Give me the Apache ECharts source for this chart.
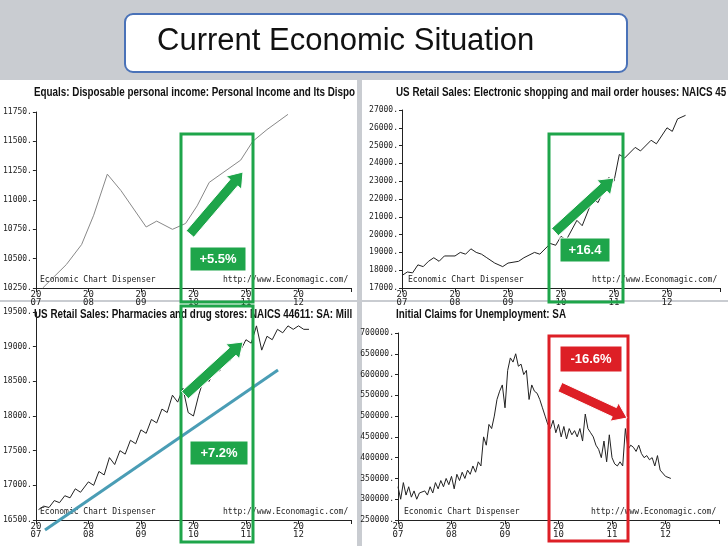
<!DOCTYPE html>
<html><head><meta charset="utf-8">
<script src="https://cdn.jsdelivr.net/npm/echarts@6/dist/echarts.min.js"></script>
<style>html,body{margin:0;padding:0;background:#c9ccd1}#main{width:728px;height:546px}</style>
</head><body><div id="main"></div>
<script>
// values: [year, value]
var incomeData = [[2007.13,10250],[2007.58,10450],[2007.87,10620],[2008.1,10870],[2008.36,11220],[2008.62,11080],[2009.1,10770],[2009.3,10820],[2009.6,10750],[2009.85,10800],[2010.07,10950],[2010.3,11150],[2010.9,11340],[2011.13,11500],[2011.4,11600],[2011.8,11730]];
var shoppingData = [[2007.0,17700],[2007.1,17900],[2007.2,17850],[2007.3,18300],[2007.4,18200],[2007.5,18500],[2007.6,18700],[2007.7,18500],[2007.8,18800],[2008.0,18800],[2008.1,19000],[2008.2,18900],[2008.3,19200],[2008.4,19000],[2008.5,18900],[2008.6,18700],[2008.75,18400],[2008.9,18200],[2009.0,18400],[2009.2,18500],[2009.3,18700],[2009.5,19000],[2009.6,18900],[2009.8,19500],[2009.9,19400],[2010.0,19900],[2010.1,19700],[2010.3,20800],[2010.4,20500],[2010.6,22000],[2010.7,21800],[2010.9,23200],[2011.0,23000],[2011.1,24500],[2011.2,24300],[2011.4,24900],[2011.5,24700],[2011.7,25300],[2011.8,25100],[2012.0,26000],[2012.1,25800],[2012.2,26500],[2012.35,26700]];
var pharmacyData = [[2007.05,16650],[2007.15,16700],[2007.25,16680],[2007.35,16780],[2007.45,16750],[2007.55,16850],[2007.65,16820],[2007.75,16950],[2007.85,16900],[2008.0,17050],[2008.1,17000],[2008.2,17200],[2008.3,17150],[2008.4,17400],[2008.5,17300],[2008.6,17500],[2008.7,17450],[2008.8,17650],[2008.9,17600],[2009.0,17800],[2009.1,17750],[2009.2,17950],[2009.3,17900],[2009.4,18100],[2009.5,18050],[2009.6,18300],[2009.7,18200],[2009.8,18400],[2009.9,18050],[2010.0,18000],[2010.1,18300],[2010.2,18550],[2010.3,18500],[2010.4,18700],[2010.5,18650],[2010.6,18850],[2010.7,18800],[2010.8,19000],[2010.9,18950],[2011.0,19100],[2011.1,19050],[2011.2,19300],[2011.3,18950],[2011.4,19150],[2011.5,19100],[2011.6,19250],[2011.7,19200],[2011.8,19300],[2011.9,19250],[2012.0,19300],[2012.1,19250],[2012.2,19250]];
var claimsData = [[2007.0,330000],[2007.05,300000],[2007.1,340000],[2007.15,310000],[2007.2,330000],[2007.25,305000],[2007.3,320000],[2007.35,300000],[2007.4,315000],[2007.5,320000],[2007.55,310000],[2007.6,330000],[2007.65,315000],[2007.7,340000],[2007.75,325000],[2007.8,345000],[2007.85,330000],[2007.9,350000],[2007.95,335000],[2008.0,355000],[2008.05,325000],[2008.1,360000],[2008.15,345000],[2008.2,365000],[2008.25,350000],[2008.3,370000],[2008.35,360000],[2008.4,380000],[2008.45,365000],[2008.5,390000],[2008.55,380000],[2008.6,450000],[2008.65,430000],[2008.7,480000],[2008.75,470000],[2008.8,500000],[2008.85,540000],[2008.9,560000],[2008.95,575000],[2009.0,520000],[2009.05,610000],[2009.1,640000],[2009.15,630000],[2009.2,650000],[2009.25,620000],[2009.3,625000],[2009.35,600000],[2009.4,610000],[2009.45,540000],[2009.5,575000],[2009.55,560000],[2009.6,555000],[2009.65,540000],[2009.7,520000],[2009.75,500000],[2009.8,480000],[2009.85,470000],[2009.9,490000],[2009.95,460000],[2010.0,480000],[2010.05,450000],[2010.1,475000],[2010.15,445000],[2010.2,470000],[2010.25,455000],[2010.3,465000],[2010.35,450000],[2010.4,470000],[2010.45,440000],[2010.5,505000],[2010.55,470000],[2010.6,460000],[2010.65,450000],[2010.7,430000],[2010.75,420000],[2010.8,400000],[2010.85,440000],[2010.9,390000],[2010.95,455000],[2011.0,400000],[2011.05,385000],[2011.1,380000],[2011.15,390000],[2011.2,380000],[2011.25,470000],[2011.3,420000],[2011.35,430000],[2011.4,425000],[2011.45,415000],[2011.5,430000],[2011.55,410000],[2011.6,400000],[2011.65,405000],[2011.7,395000],[2011.75,400000],[2011.8,380000],[2011.85,405000],[2011.9,370000],[2012.0,355000],[2012.1,350000]];

var titles = ['Equals: Disposable personal income: Personal Income and Its Dispositio',
  'US Retail Sales: Electronic shopping and mail order houses: NAICS 4541:',
  'US Retail Sales: Pharmacies and drug stores: NAICS 44611: SA: Millions o',
  'Initial Claims for Unemployment: SA'];
var yRanges = [[10250,11750,250],[17000,27000,1000],[16500,19500,500],[250000,700000,50000]];
var grids = [
  {left:34, top:112, width:317, height:176},
  {left:402, top:110, width:318, height:178},
  {left:34, top:312, width:317, height:208},
  {left:398, top:333, width:321, height:187}
];
var panels = [[0,80,357,220],[362,80,366,220],[0,302,357,244],[362,302,366,244]];
var seriesData = [incomeData, shoppingData, pharmacyData, claimsData];

var mono = 'DejaVu Sans Mono';
var graphic = [];
panels.forEach(function (p, i) {
  graphic.push({type:'rect', z:-10, shape:{x:p[0],y:p[1],width:p[2],height:p[3]}, style:{fill:'#fff'}});
  graphic.push({type:'text', x:p[0]+34, y:p[1]+7, scaleX:0.82, originX:0, originY:0,
    style:{text:titles[i], font:'bold 12px "Liberation Sans"', fill:'#111', width:(p[2]-34)/0.82, overflow:'truncate', ellipsis:''}});
  var g = grids[i];
  graphic.push({type:'text', left:g.left+6, top:g.top+g.height-12, style:{text:'Economic Chart Dispenser', font:'8px '+mono, fill:'#222'}});
  graphic.push({type:'text', left:g.left+g.width-128, top:g.top+g.height-12, style:{text:'http://www.Economagic.com/', font:'8px '+mono, fill:'#222'}});
});
// title box
graphic.push({type:'rect', shape:{x:125,y:14,width:502,height:58,r:8}, style:{fill:'#fff',stroke:'#4a72b8',lineWidth:2}, z:50});
graphic.push({type:'text', left:157, top:26, z:51, style:{text:'Current Economic Situation', font:'31px "Liberation Sans"', fill:'#111'}});
// highlight boxes
function box(x,y,w,h,c){graphic.push({type:'rect',z:60,shape:{x:x,y:y,width:w,height:h},style:{fill:'none',stroke:c,lineWidth:3}});}
function tag(x,y,w,h,c,t){graphic.push({type:'rect',z:61,shape:{x:x,y:y,width:w,height:h},style:{fill:c,stroke:'#fff',lineWidth:1}});
  graphic.push({type:'text',z:62,x:x+w/2,y:y+h/2,style:{text:t,font:'bold 13px "Liberation Sans"',fill:'#fff',align:'center',verticalAlign:'middle'}});}
function arrow(x1,y1,x2,y2,c){
  var a=Math.atan2(y2-y1,x2-x1), L=Math.hypot(x2-x1,y2-y1), w=5, hw=10, hl=14;
  var pts=[[0,-w],[L-hl,-w],[L-hl,-hw],[L,0],[L-hl,hw],[L-hl,w],[0,w]].map(function(p){
    return [x1+p[0]*Math.cos(a)-p[1]*Math.sin(a), y1+p[0]*Math.sin(a)+p[1]*Math.cos(a)];});
  graphic.push({type:'polygon',z:63,shape:{points:pts},style:{fill:c,stroke:'#fff',lineWidth:1}});
}
var G='#1ea54a', R='#dd1f26';
box(181,134,72,168,G); tag(190,247,56,24,G,'+5.5%'); arrow(190,234,243,172,G);
box(549,134,74,168,G); tag(560,238,50,24,G,'+16.4'); arrow(555,232,614,178,G);
box(181,306,72,236,G); tag(190,441,58,24,G,'+7.2%'); arrow(185,395,243,342,G);
box(549,336,79,205,R); tag(560,346,62,26,R,'-16.6%'); arrow(560,387,627,418,R);
graphic.push({type:'line',z:59,shape:{x1:45,y1:530,x2:278,y2:370},style:{stroke:'#4a9db5',lineWidth:3}});

var option = {
  backgroundColor:'#c9ccd1',
  animation:false,
  graphic: graphic,
  grid: grids,
  xAxis: grids.map(function (g, i) {
    return {type:'value', gridIndex:i, min:2007, max:2013, interval:1, splitLine:{show:false},
      axisLine:{lineStyle:{color:'#222'}}, axisTick:{length:4, lineStyle:{color:'#222'}},
      axisLabel:{fontFamily:mono, fontSize:9, color:'#222', margin:3, lineHeight:8,
        formatter:function(v){return v>=2013?'':'20\n'+String(v).slice(2);}}};
  }),
  yAxis: yRanges.map(function (r, i) {
    return {type:'value', gridIndex:i, min:r[0], max:r[1], interval:r[2], splitLine:{show:false},
      axisLine:{show:true, lineStyle:{color:'#222'}}, axisTick:{length:3, lineStyle:{color:'#222'}},
      axisLabel:{fontFamily:mono, fontSize:8, color:'#222', margin:4, formatter:function(v){return v+'.';}}};
  }),
  series: seriesData.map(function (d, i) {
    return {type:'line', xAxisIndex:i, yAxisIndex:i, data:d, showSymbol:false,
      lineStyle:{color: i===0 ? '#888' : '#222', width:1}};
  })
};
echarts.init(document.getElementById('main')).setOption(option);
</script></body></html>
